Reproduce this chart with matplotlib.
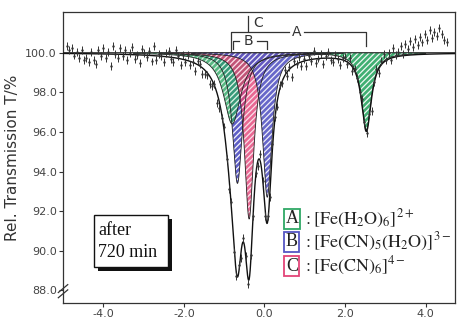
import numpy as np
import matplotlib
matplotlib.use("Agg")
import matplotlib.pyplot as plt
from matplotlib.patches import Rectangle

plt.rcParams['mathtext.fontset'] = 'stix'
plt.rcParams['hatch.linewidth'] = 0.9

# ---- data ----
# sub-spectra (Lorentzian lines): centre (mm/s), depth (%), FWHM (mm/s)
site_names = ["A", "B", "C"]
site_colors = ["#2fa866", "#5656c4", "#e34478"]
A_centres = [-0.80, 2.53]
A_depths = [3.6, 3.9]
A_fwhm = [0.52, 0.30]
B_centres = [-0.67, 0.07]
B_depths = [6.6, 7.3]
B_fwhm = [0.30, 0.28]
C_centres = [-0.38]
C_depths = [8.4]
C_fwhm = [0.28]

legend_formulas = [r"$\mathrm{: [Fe(H_2O)_6]^{2+}}$",
                   r"$\mathrm{: [Fe(CN)_5(H_2O)]^{3-}}$",
                   r"$\mathrm{: [Fe(CN)_6]^{4-}}$"]

v_start, v_step = -4.9, 0.06
residuals = [0.4, 0.2, 0.3, -0.1, 0.1, -0.2, 0.2, -0.3,
             -0.2, -0.4, 0.1, -0.3, -0.5, 0.2, -0.1, 0.3, -0.2, 0.1, -0.6, 0.4, 0.0, -0.2, 0.3, -0.1, 0.2,
             -0.3, 0.1, 0.4, -0.2, 0.0, -0.4, 0.3, 0.1, -0.1, 0.2, -0.3, 0.5, -0.2, 0.1, 0.0, -0.3, 0.2,
             0.3, -0.1, -0.2, 0.4, 0.1, -0.3, 0.2, -0.1, 0.3, -0.2, 0.0, -0.4, 0.2, 0.1, -0.3, -0.2,
             -0.1, -0.4, -0.3, 0.1, -0.5, -0.3, -0.2, 0.2, -0.4, -0.6, 0.3, -0.5, -0.2, 0.4, -0.3, 0.2,
             0.1, -0.2, 0.3, -0.1, 0.2, -0.3, 0.4, 0.0, -0.2, 0.3, -0.4, 0.2, 0.1, -0.3, 0.2, -0.1,
             0.3, -0.2, 0.1, -0.5, 0.2, 0.0, 0.3, -0.2, 0.1, -0.3, 0.2, -0.1, 0.4, -0.2, 0.0, 0.2,
             -0.3, 0.1, 0.3, -0.1, -0.2, 0.2, 0.0, -0.3, 0.1, 0.2, -0.1, 0.3, -0.2, 0.1, 0.0, -0.2,
             0.3, 0.1, -0.1, 0.2, -0.65, 0.1, 0.3, -0.2, 0.2, 0.4, 0.0, 0.3, -0.1, 0.5, 0.1,
             0.2, 0.5, 0.1, 0.6, 0.3, 0.7, 0.4, 0.8, 0.5, 0.9, 0.6, 1.0, 0.7, 1.2, 0.8, 1.1, 0.9,
             1.3, 1.0, 0.7, 0.6]

x_ticks = [-4.0, -2.0, 0.0, 2.0, 4.0]
y_ticks = [88.0, 90.0, 92.0, 94.0, 96.0, 98.0, 100.0]


def lorentz(v, c, d, w):
    return d / (1.0 + ((v - c) / (w / 2.0)) ** 2)


fig = plt.figure(figsize=(4.58, 3.23), dpi=100)
ax = fig.add_axes([0.1376, 0.062, 0.8558, 0.901])
xlim = (-5.0, 4.73)
ylim = (87.36, 102.06)
ax.set_xlim(*xlim)
ax.set_ylim(*ylim)

vf = np.linspace(xlim[0], xlim[1], 3000)
sites = {"A": (A_centres, A_depths, A_fwhm),
         "B": (B_centres, B_depths, B_fwhm),
         "C": (C_centres, C_depths, C_fwhm)}
colors = dict(zip(site_names, site_colors))

# individual lines, drawn in layering order (site, line index, alpha)
draw_order = [("B", 0, 0.95), ("A", 0, 0.80), ("C", 0, 0.80), ("B", 1, 0.90), ("A", 1, 0.92)]

total = np.zeros_like(vf)
for name in site_names:
    cs, ds, ws = sites[name]
    for c, d, w in zip(cs, ds, ws):
        total += lorentz(vf, c, d, w)

for name, k, alpha in draw_order:
    cs, ds, ws = sites[name]
    a = lorentz(vf, cs[k], ds[k], ws[k])
    curve = 100 - a
    mask = a > 0.04
    ax.fill_between(vf, curve, 100, where=mask, facecolor=colors[name], edgecolor='white',
                    hatch='//////', linewidth=0, alpha=alpha, zorder=2)
    ax.plot(vf[mask], curve[mask], color='#222222', lw=0.6, zorder=3)

# baseline
ax.plot(vf, np.full_like(vf, 100.0), color='#222222', lw=0.8, zorder=3)
# envelope fit
ax.plot(vf, 100 - total, color='#111111', lw=1.0, zorder=4)

# measured points
vd = v_start + v_step * np.arange(len(residuals))
tot_d = np.zeros_like(vd)
for name in site_names:
    cs, ds, ws = sites[name]
    for c, d, w in zip(cs, ds, ws):
        tot_d += lorentz(vd, c, d, w)
Td = 100 - tot_d + np.array(residuals)
ax.errorbar(vd, Td, yerr=0.2, fmt='none', ecolor='#333333', elinewidth=0.7, zorder=5)
ax.plot(vd, Td, '.', color='#333333', ms=1.5, zorder=5)

# brackets
bk = dict(color='#333333', lw=0.9, zorder=6)
yA = 101.05
ax.plot([-0.82, -0.82, 0.62], [100.1, yA, yA], **bk)
ax.plot([0.98, 2.53, 2.53], [yA, yA, 100.35], **bk)
ax.text(0.80, yA, "A", ha='center', va='center', fontsize=10, color='#333333')
yB = 100.6
ax.plot([-0.77, -0.77, -0.62], [100.2, yB, yB], **bk)
ax.plot([-0.18, 0.07, 0.07], [yB, yB, 100.2], **bk)
ax.text(-0.40, yB, "B", ha='center', va='center', fontsize=10, color='#333333')
ax.plot([-0.40, -0.40], [101.1, 101.87], **bk)
ax.text(-0.28, 101.5, "C", ha='left', va='center', fontsize=10, color='#333333')

# legend
rows_y = [0.289, 0.210, 0.127]
for name, col, form, yy in zip(site_names, site_colors, legend_formulas, rows_y):
    ax.text(0.584, yy, name, transform=ax.transAxes, ha='center', va='center',
            fontsize=13, family='Liberation Serif', color='#222222',
            bbox=dict(boxstyle='square,pad=0.08', fc='none', ec=col, lw=1.3), zorder=7)
    ax.text(0.612, yy, form, transform=ax.transAxes, ha='left', va='center',
            fontsize=13, color='#222222', zorder=7)

# "after 720 min" box
ax.add_patch(Rectangle((0.089, 0.110), 0.189, 0.178, transform=ax.transAxes,
                       facecolor='#111111', edgecolor='none', zorder=7))
ax.add_patch(Rectangle((0.079, 0.124), 0.189, 0.178, transform=ax.transAxes,
                       facecolor='white', edgecolor='#111111', lw=1.0, zorder=8))
ax.text(0.090, 0.250, "after", transform=ax.transAxes, ha='left', va='center',
        fontsize=13, family='Liberation Serif', color='#111111', zorder=9)
ax.text(0.090, 0.172, "720 min", transform=ax.transAxes, ha='left', va='center',
        fontsize=13, family='Liberation Serif', color='#111111', zorder=9)

# axes styling
ax.set_xticks(x_ticks)
ax.set_xticklabels([f"{t:.1f}" for t in x_ticks])
ax.set_yticks(y_ticks)
ax.set_yticklabels([f"{t:.1f}" for t in y_ticks])
ax.tick_params(direction='out', length=3, width=0.8, labelsize=8, colors='#333333',
               labelcolor='#444444', pad=1.5)
for s in ax.spines.values():
    s.set_color('#333333')
    s.set_linewidth(0.9)
ax.set_ylabel("Rel. Transmission T/%", fontsize=11, color='#333333', labelpad=4)

# axis break marks
for dy in (0.0, 0.018):
    ax.plot([-0.012, 0.012], [0.018 + dy, 0.045 + dy], transform=ax.transAxes,
            color='#333333', lw=0.9, clip_on=False, zorder=10)

fig.savefig("out.png", dpi=100)
